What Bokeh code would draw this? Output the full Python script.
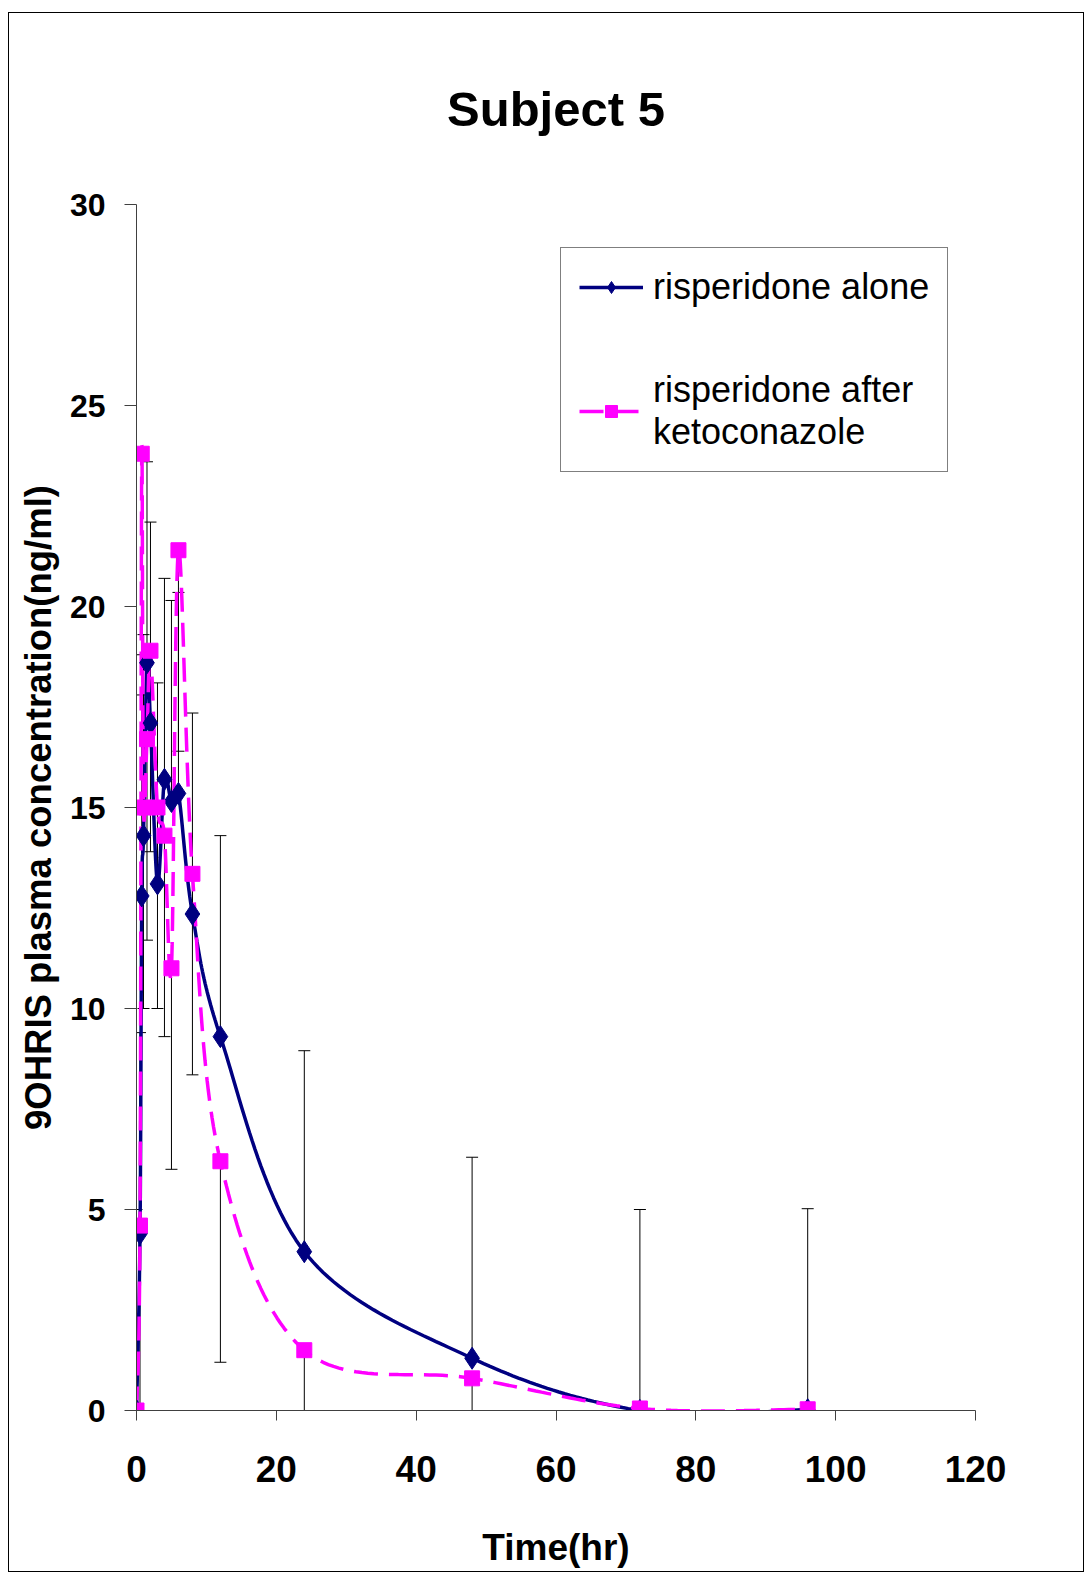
import numpy as np
from bokeh.plotting import figure
from bokeh.models import Legend, LegendItem, Whisker, ColumnDataSource, TeeHead, Range1d, FixedTicker
from bokeh.embed import file_html
from bokeh.resources import INLINE

# ---- data ----
time_hr = [0, 0.5, 0.75, 1, 1.5, 2, 3, 4, 5, 6, 8, 12, 24, 48, 72, 96]
ris_alone = [0, 4.4, 12.8, 14.3, 18.6, 17.1, 13.1, 15.7, 15.15, 15.35, 12.35, 9.3, 3.95, 1.3, 0.0, 0.02]
ris_keto = [0, 4.6, 23.8, 15.0, 16.7, 18.9, 15.0, 14.3, 11.0, 21.4, 13.35, 6.2, 1.5, 0.8, 0.05, 0.03]
err_fixed = 5.0
x_ticks = [0, 20, 40, 60, 80, 100, 120]
y_ticks = [0, 5, 10, 15, 20, 25, 30]

NAVY = "#000080"
MAGENTA = "#FF00FF"
FONT = "Liberation Sans"


def smooth(xs, ys, steps=30):
    """Excel-like smoothed line (cubic Bezier, Catmull-Rom style control points)."""
    x = np.asarray(xs, float)
    y = np.asarray(ys, float)
    px = np.concatenate([[x[0]], x, [x[-1]]])
    py = np.concatenate([[y[0]], y, [y[-1]]])
    ox, oy = [], []
    t = np.linspace(0, 1, steps)
    for i in range(len(x) - 1):
        p0 = np.array([px[i], py[i]])
        p1 = np.array([px[i + 1], py[i + 1]])
        p2 = np.array([px[i + 2], py[i + 2]])
        p3 = np.array([px[i + 3], py[i + 3]])
        c1 = p1 + (p2 - p0) / 6.0
        c2 = p2 - (p3 - p1) / 6.0
        tt = t if i == 0 else t[1:]
        b = ((1 - tt) ** 3)[:, None] * p1 + (3 * (1 - tt) ** 2 * tt)[:, None] * c1 \
            + (3 * (1 - tt) * tt ** 2)[:, None] * c2 + (tt ** 3)[:, None] * p2
        ox.extend(b[:, 0])
        oy.extend(b[:, 1])
    return ox, oy


p = figure(width=1076, height=1560, output_backend="svg", toolbar_location=None,
           x_range=Range1d(0, 120), y_range=Range1d(0, 30),
           min_border_left=127, min_border_top=191, min_border_right=110, min_border_bottom=163,
           styles={"margin-left": "8px", "margin-top": "12px", "border": "1px solid black"})
p.outline_line_color = None
p.xgrid.visible = False
p.ygrid.visible = False
p.background_fill_color = "white"

# title
p.title.text = "Subject 5"
p.title.text_font = FONT
p.title.text_font_size = "49px"
p.title.text_font_style = "bold"
p.title.text_color = "black"
p.title.align = "center"
p.title.vertical_align = "top"
p.title.standoff = 133

# axes
for ax in (p.xaxis[0], p.yaxis[0]):
    ax.axis_line_color = "#404040"
    ax.major_tick_line_color = "#404040"
    ax.minor_tick_line_color = None
    ax.major_tick_in = 0
    ax.major_label_text_font = FONT
    ax.major_label_text_font_style = "bold"
    ax.major_label_text_color = "black"
    ax.axis_label_text_font = FONT
    ax.axis_label_text_font_style = "bold"
    ax.axis_label_text_color = "black"

p.xaxis.ticker = FixedTicker(ticks=x_ticks)
p.yaxis.ticker = FixedTicker(ticks=y_ticks)
p.xaxis.major_tick_out = 10
p.yaxis.major_tick_out = 12
p.xaxis.major_label_text_font_size = "37px"
p.yaxis.major_label_text_font_size = "32px"
p.xaxis.major_label_standoff = 35
p.yaxis.major_label_standoff = 19
p.xaxis.axis_label = "Time(hr)"
p.yaxis.axis_label = "9OHRIS plasma concentration(ng/ml)"
p.xaxis.axis_label_text_font_size = "37px"
p.yaxis.axis_label_text_font_size = "36.5px"
p.xaxis.axis_label_standoff = 42
p.yaxis.axis_label_standoff = 8

# error bars (fixed value): + for risperidone alone, - after ketoconazole
t_arr = np.array(time_hr, float)
a_arr = np.array(ris_alone, float)
k_arr = np.array(ris_keto, float)
src_a = ColumnDataSource(dict(base=t_arr, lower=a_arr, upper=a_arr + err_fixed))
src_k = ColumnDataSource(dict(base=t_arr, lower=np.maximum(k_arr - err_fixed, 0), upper=k_arr))
wa = Whisker(source=src_a, base="base", lower="lower", upper="upper", line_color="black", line_width=1,
             upper_head=TeeHead(size=12, line_color="black", line_width=1), lower_head=None, level="underlay")
wk = Whisker(source=src_k, base="base", lower="lower", upper="upper", line_color="black", line_width=1,
             lower_head=TeeHead(size=12, line_color="black", line_width=1), upper_head=None, level="underlay")
p.add_layout(wa)
p.add_layout(wk)

# smoothed lines
sxa, sya = smooth(time_hr, ris_alone)
sxk, syk = smooth(time_hr, ris_keto)
la = p.line(sxa, sya, line_color=NAVY, line_width=3.5)
lk = p.line(sxk, syk, line_color=MAGENTA, line_width=3.5, line_dash="24 11")
ma = p.scatter(time_hr, ris_alone, marker="diamond", size=22, fill_color=NAVY, line_color=NAVY)
mk = p.scatter(time_hr, ris_keto, marker="square", size=15, fill_color=MAGENTA, line_color=MAGENTA)

legend = Legend(items=[LegendItem(label="risperidone alone", renderers=[la, ma]),
                       LegendItem(label="risperidone after\nketoconazole", renderers=[lk, mk])],
                location=(424, 938))
legend.label_text_font = FONT
legend.label_text_font_size = "36px"
legend.label_text_line_height = 1.1
legend.label_text_color = "black"
legend.glyph_width = 64
legend.glyph_height = 30
legend.label_standoff = 10
legend.padding = 18
legend.spacing = 61
legend.border_line_color = "black"
legend.border_line_width = 1
legend.background_fill_alpha = 1.0
p.add_layout(legend)

open("out.html", "w").write(file_html(p, INLINE))
